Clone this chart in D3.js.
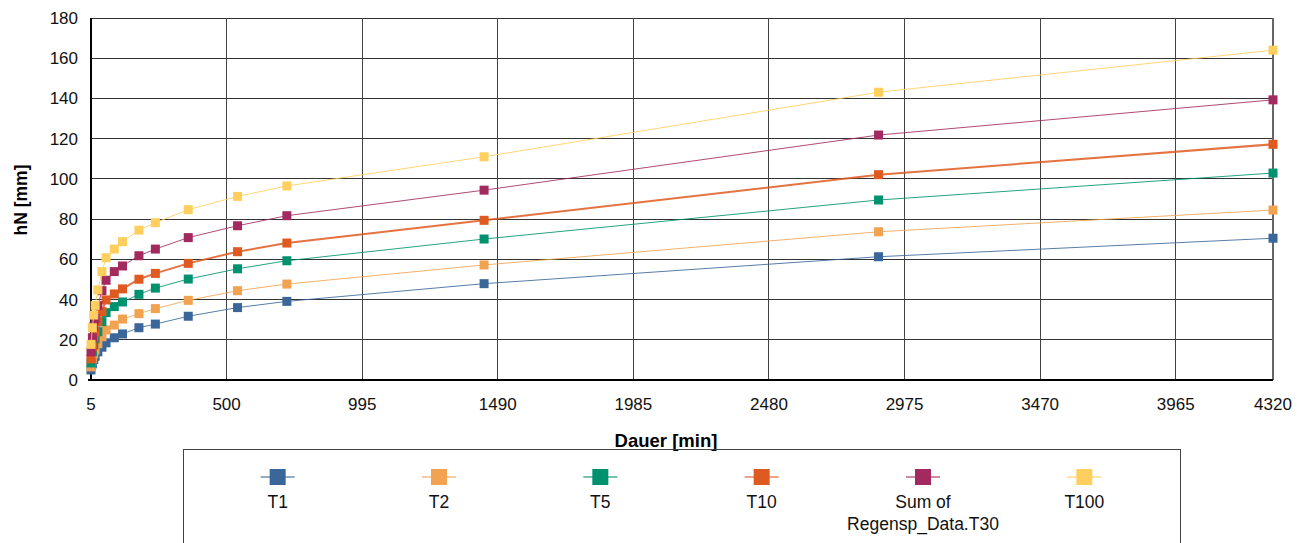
<!DOCTYPE html>
<html>
<head>
<meta charset="utf-8">
<script src="https://cdn.jsdelivr.net/npm/d3@7"></script>
<style>
html,body{margin:0;padding:0;background:#fff;}
svg{display:block;font-family:"Liberation Sans",Arial,sans-serif;}
</style>
</head>
<body>
<svg id="chart" width="1311" height="543"></svg>
<script>
// Durations [min]
const durations = [5,10,15,20,30,45,60,90,120,180,240,360,540,720,1440,2880,4320];
// Series values hN [mm]
const T1   = [5.0, 8.0,10.2,11.8,14.0,16.3,18.5,21.0,22.9,26.0,27.8,31.7,36.0,39.1,47.9,61.3,70.5];
const T2   = [6.5,10.5,13.0,15.0,18.0,21.5,24.9,27.3,30.3,33.0,35.5,39.6,44.4,47.7,57.2,73.7,84.5];
const T5   = [8.5,14.0,17.5,20.5,24.0,29.0,33.5,36.5,38.8,42.6,45.7,50.2,55.3,59.3,70.1,89.5,102.9];
const T10  = [10.5,16.5,21.0,24.0,29.0,34.0,39.8,42.8,45.3,50.1,53.0,58.0,63.8,68.1,79.4,102.1,117.2];
const T30  = [14.0,21.0,26.5,30.5,37.0,44.4,49.6,53.9,56.7,61.8,65.1,70.8,76.7,81.7,94.4,121.8,139.3];
const T100 = [17.7,26.0,32.3,37.1,44.8,53.9,60.8,65.1,68.8,74.5,78.2,84.7,91.3,96.5,111.0,143.1,164.0];

const seriesNames = ["T1","T2","T5","T10","Sum of\nRegensp_Data.T30","T100"];
const seriesValues = [T1,T2,T5,T10,T30,T100];
const seriesColors = ["#3b6699","#f1a352","#00916f","#df5a20","#a22a5f","#fecf5f"];
const lineWidths = [1,1,1,2,1,1];

const xTicks = [5,500,995,1490,1985,2480,2975,3470,3965,4320];
const yTicks = [0,20,40,60,80,100,120,140,160,180];
const xTitle = "Dauer [min]";
const yTitle = "hN [mm]";

const svg = d3.select("#chart");
const x = d3.scaleLinear().domain([5,4320]).range([91,1273]);
const y = d3.scaleLinear().domain([0,180]).range([380,18]);

// grid
const grid = svg.append("g").attr("shape-rendering","crispEdges");
grid.selectAll("line.h").data(yTicks.filter(d=>d>0)).enter().append("line")
  .attr("x1",x(5)).attr("x2",x(4320)).attr("y1",d=>y(d)).attr("y2",d=>y(d))
  .attr("stroke","#333").attr("stroke-width",1);
grid.selectAll("line.v").data(xTicks.filter(d=>d>5)).enter().append("line")
  .attr("y1",y(0)).attr("y2",y(180)).attr("x1",d=>x(d)).attr("x2",d=>x(d))
  .attr("stroke",d=>d===4320?"#666":"#444").attr("stroke-width",d=>d===4320?2:1);

// axes lines
svg.append("line").attr("x1",x(5)).attr("x2",x(5)).attr("y1",y(180)).attr("y2",y(0)+1)
  .attr("stroke","#000").attr("stroke-width",2);
svg.append("line").attr("x1",x(5)-3).attr("x2",x(4320)).attr("y1",y(0)).attr("y2",y(0))
  .attr("stroke","#000").attr("stroke-width",2);

// tick labels
svg.append("g").selectAll("text").data(yTicks).enter().append("text")
  .attr("x",78).attr("y",d=>y(d)+6).attr("text-anchor","end")
  .attr("font-size",17).attr("fill","#111").text(d=>d);
svg.append("g").selectAll("text").data(xTicks).enter().append("text")
  .attr("x",d=>x(d)).attr("y",410).attr("text-anchor","middle")
  .attr("font-size",17).attr("fill","#111").text(d=>d);

// titles
svg.append("text").attr("transform","translate(27,200) rotate(-90)")
  .attr("text-anchor","middle").attr("font-size",17.5).attr("font-weight","bold").text(yTitle);
svg.append("text").attr("x",666).attr("y",447).attr("text-anchor","middle")
  .attr("font-size",18.5).attr("font-weight","bold").text(xTitle);

// series
const line = d3.line().x(d=>x(d[0])).y(d=>y(d[1]));
seriesValues.forEach((vals,i)=>{
  const pts = durations.map((d,j)=>[d,vals[j]]);
  const g = svg.append("g");
  g.append("path").attr("d",line(pts)).attr("fill","none")
    .attr("stroke",seriesColors[i]).attr("stroke-width",lineWidths[i]).attr("stroke-opacity",0.85);
  const s = 9;
  g.selectAll("rect").data(pts).enter().append("rect")
    .attr("x",d=>x(d[0])-s/2).attr("y",d=>y(d[1])-s/2).attr("width",s).attr("height",s)
    .attr("fill",seriesColors[i]);
});

// legend
svg.append("rect").attr("x",183.5).attr("y",449.5).attr("width",997).attr("height",120)
  .attr("fill","none").attr("stroke","#444").attr("stroke-width",1);
const legX = d3.scaleBand().domain(d3.range(seriesNames.length)).range([197,1165]);
seriesNames.forEach((name,i)=>{
  const cx = legX(i)+legX.bandwidth()/2;
  const lg = svg.append("g");
  lg.append("line").attr("x1",cx-17).attr("x2",cx+17).attr("y1",477).attr("y2",477)
    .attr("stroke",seriesColors[i]).attr("stroke-width",2).attr("stroke-opacity",0.55);
  lg.append("rect").attr("x",cx-8).attr("y",469).attr("width",16).attr("height",16)
    .attr("fill",seriesColors[i]);
  const lines = name.split("\n");
  lines.forEach((t,k)=>{
    lg.append("text").attr("x",cx).attr("y",508+k*22).attr("text-anchor","middle")
      .attr("font-size",17.5).attr("fill","#111").text(t);
  });
});
</script>
</body>
</html>
